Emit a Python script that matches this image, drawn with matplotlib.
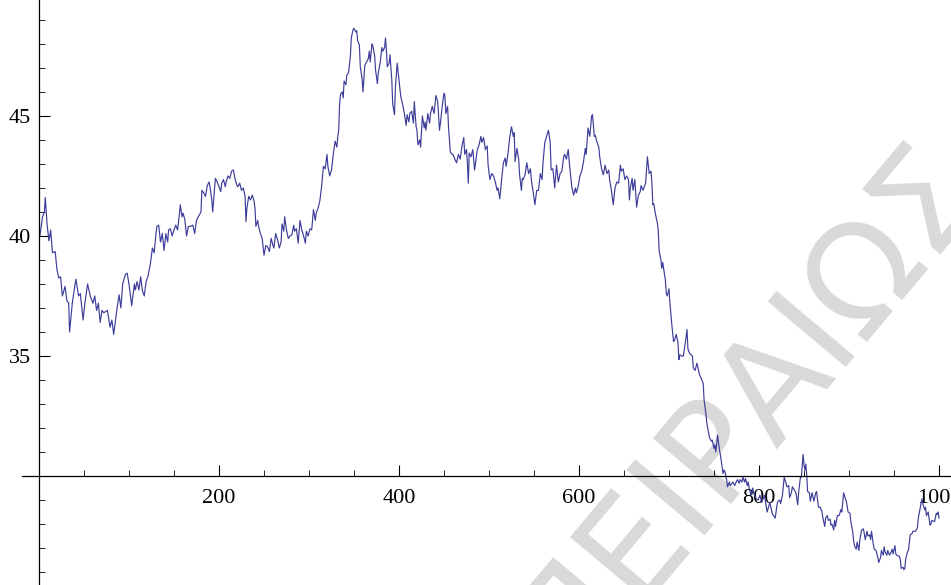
import numpy as np
import matplotlib
matplotlib.use('Agg')
import matplotlib.pyplot as plt
from matplotlib.ticker import MultipleLocator

# series (step, value)
steps = [1, 4, 6, 7, 9, 11, 13, 15, 18, 20, 22, 24, 26, 29, 31, 33, 34, 37, 41, 44,
         46, 49, 51, 54, 57, 60, 62, 64, 66, 68, 70, 72, 76, 79, 81, 83,
         87, 89, 91, 93, 96, 98, 100, 103, 106, 107, 109, 111, 113, 115, 117, 119,
         121, 123, 124, 126, 128, 130, 131, 133, 135, 137, 139, 141, 143, 144, 146,
         148, 150, 152, 154, 156, 157, 159, 160, 162, 164, 166,
         168, 171, 173, 175, 177, 180, 181, 183, 185, 187, 189, 190, 192, 193, 195,
         196, 198, 200, 202, 203, 205, 207, 208, 210, 212, 214, 216, 218, 220, 221,
         223, 225, 227, 229, 230, 231, 233, 235, 237, 239, 240, 241, 243, 244, 246,
         248, 250,
         252, 254, 256, 258, 260, 261, 263, 265, 267, 269, 270, 272, 273, 275, 277,
         279, 281, 283, 284, 286, 288, 290, 292, 294, 296, 297, 299, 301, 303, 305,
         307, 308, 310, 312, 314, 316, 318, 320, 321, 323, 325, 327, 329, 331, 332,
         333, 334, 335, 337, 338, 339, 341, 342, 344, 346, 347, 349, 350, 352, 353,
         354, 356, 357, 359, 360, 362, 364, 366, 367, 368, 370, 371, 373, 374, 376,
         377, 379, 381, 382, 384, 385, 386, 387, 389, 390, 392, 393, 395, 396, 398,
         400, 402, 404, 406, 408, 409, 411, 412, 414, 416, 417,
         419, 420, 421, 423, 424, 426, 428, 429, 430, 432, 434, 435, 437, 439, 441,
         443, 445, 446, 448, 450, 451, 452, 454, 455, 457, 459, 460, 462, 464, 466,
         468, 470, 472, 473, 475, 476, 477, 478, 480, 482, 484, 486, 487, 489, 491,
         492, 494, 496, 498, 499, 501,
         503, 505, 507, 509, 510, 512, 514, 516, 518, 519, 521, 523, 525, 527, 528,
         529, 531, 533, 534, 536, 537, 538, 540, 542, 544, 546, 547, 549, 551, 553,
         555, 557, 559, 560, 562, 564, 566, 568, 569, 571, 573, 575, 577, 579, 581, 583,
         584, 586, 588, 590, 592, 594, 596, 597, 599, 601, 603, 605, 607, 608, 610,
         612, 614, 615, 617, 618, 620, 622, 623, 625, 627, 629, 631, 633, 634, 636,
         638, 640, 642, 644, 646, 647, 649, 651, 653, 655, 656, 657, 659, 660, 662,
         664, 666, 668,
         669, 671, 673, 674, 676, 678, 680, 681, 682, 683, 685, 687, 688, 689, 691,
         692, 693, 696, 697, 698, 700, 701, 703, 705, 706, 708, 710, 711, 712, 714,
         716, 719, 720, 721, 723, 726, 727, 729, 731,
         734, 736, 738, 739, 741, 742, 744, 745, 747, 748, 750, 751, 752, 754, 756,
         757, 758, 760, 761, 762, 764, 765, 767, 768, 770, 771, 773, 774, 776, 778,
         779, 781, 782, 784, 785, 787, 788, 789, 791, 793, 794, 797, 799, 801, 803,
         806, 809, 812, 815,
         818, 820, 821, 823, 824, 826, 828, 830, 831, 833, 834, 836, 837, 838, 841,
         843, 844, 846, 847, 849, 850, 851, 852, 853, 854, 856, 857, 859, 861, 863,
         864, 866, 868, 870, 871, 873, 874, 876, 877, 879, 880, 881, 883, 884, 885,
         887, 889, 891, 892, 894, 896, 897, 899, 901, 902, 904, 905,
         906, 908, 909, 911, 912, 914, 916, 917, 918, 920, 921, 923, 924, 925, 927,
         928, 930, 932, 933, 935, 936, 938, 939, 940, 942, 943, 945, 947, 948, 949,
         951, 952, 953, 956, 957, 958, 960, 961, 962, 963, 965, 966, 968, 970, 971,
         974, 976, 977, 979, 981, 982, 984, 985, 986, 988, 990, 991, 992, 995, 997,
         998, 999, 1000]

values = [40.0, 40.8, 41.0, 41.6, 40.5, 39.8, 40.25, 39.3, 39.35, 38.6, 38.25, 38.3, 37.5, 37.9, 37.3, 37.2, 36.0, 37.2, 38.2, 37.5,
          37.6, 36.5, 37.2, 38.0, 37.5, 37.2, 37.5, 36.9, 37.2, 36.4, 36.9, 36.8, 36.9, 36.2, 36.5, 35.9,
          37.05, 37.55, 37.0, 38.0, 38.4, 38.45, 38.0, 37.1, 38.0, 37.75, 38.1, 37.75, 38.3, 37.7, 37.5, 38.1,
          38.3, 38.7, 38.9, 39.5, 39.3, 40.1, 40.4, 40.45, 39.75, 40.1, 39.4, 40.1, 39.75, 40.25, 40.3,
          40.0, 40.25, 40.45, 40.25, 40.9, 41.3, 40.8, 40.95, 40.7, 40.0, 40.4,
          40.4, 40.45, 40.1, 40.65, 40.8, 41.0, 41.9, 41.8, 41.65, 42.1, 42.25, 42.05, 41.5, 41.0, 41.9,
          42.4, 42.25, 42.05, 41.85, 42.2, 42.35, 42.05, 42.25, 42.5, 42.4, 42.7, 42.75, 42.35, 42.1, 42.05,
          42.2, 41.9, 42.0, 41.65, 40.6, 41.15, 41.65, 41.5, 41.7, 41.45, 41.15, 40.4, 40.65, 40.4, 40.1,
          39.9, 39.2,
          39.6, 39.55, 39.35, 39.9, 39.6, 39.5, 40.1, 39.85, 39.5, 39.75, 40.5, 40.2, 40.8, 40.25, 39.9,
          40.0, 40.05, 40.45, 40.2, 40.3, 39.7, 40.65, 40.25, 40.0, 39.7, 40.2, 40.0, 40.3, 40.25, 41.1,
          40.65, 40.95, 41.15, 41.45, 42.05, 42.9, 42.8, 43.4, 42.9, 42.5, 42.75, 43.4, 43.95, 43.7, 44.15,
          44.4, 45.5, 45.9, 46.0, 45.75, 46.45, 46.3, 46.7, 46.8, 47.5, 48.25, 48.6, 48.65, 48.5, 48.55,
          48.15, 47.95, 47.05, 46.55, 46.0, 47.1, 47.25, 47.4, 47.7, 47.25, 48.0, 47.9, 47.5, 46.9, 46.35,
          46.8, 47.2, 47.85, 47.7, 47.85, 48.25, 47.75, 47.05, 47.2, 47.55, 46.5, 45.5, 45.05, 46.2, 47.2,
          46.5, 45.8, 45.5, 45.1, 44.6, 45.05, 44.75, 45.1, 45.2, 44.7, 45.6,
          44.55, 44.4, 43.8, 44.0, 43.7, 45.0, 44.5, 44.75, 44.4, 45.1, 44.7, 45.1, 45.4, 45.1, 45.85,
          45.6, 44.4, 44.7, 45.4, 45.95, 45.85, 45.1, 45.4, 44.55, 43.5, 43.4, 43.4, 43.2, 43.05, 43.4,
          43.2, 43.75, 44.1, 43.4, 43.6, 43.05, 42.2, 43.45, 43.3, 43.6, 42.75, 43.3, 43.6, 43.8, 44.15,
          43.9, 44.1, 43.6, 43.75, 42.95, 42.35,
          42.6, 42.5, 42.25, 41.9, 42.0, 41.55, 42.35, 43.05, 43.25, 42.9, 43.4, 44.1, 44.55, 44.15, 44.3,
          43.1, 43.65, 43.2, 42.55, 41.9, 42.4, 42.35, 42.55, 43.05, 42.6, 42.8, 42.35, 41.85, 41.3, 41.9,
          41.9, 42.6, 42.35, 43.05, 43.9, 44.15, 44.4, 43.9, 42.75, 42.8, 42.0, 42.95, 42.25, 42.6, 42.7, 43.3,
          43.4, 43.2, 43.6, 42.75, 42.05, 41.7, 42.0, 41.8, 42.05, 42.5, 42.7, 43.1, 43.65, 43.4, 44.5,
          44.15, 45.0, 45.05, 44.15, 44.2, 43.9, 43.7, 43.3, 42.8, 42.55, 42.95, 42.6, 42.75, 42.35, 41.9,
          41.3, 42.0, 42.25, 42.2, 42.95, 42.7, 42.8, 42.35, 42.5, 42.35, 41.5, 42.0, 42.4, 41.9, 42.35,
          41.2, 41.7, 41.85,
          42.1, 41.9, 42.1, 42.2, 43.3, 42.6, 42.7, 42.2, 41.3, 41.35, 40.9, 40.55, 40.25, 39.4, 39.0,
          38.65, 38.9, 38.15, 37.6, 37.5, 37.8, 37.2, 36.35, 35.6, 35.65, 35.9, 35.55, 34.85, 35.05, 35.0,
          35.0, 35.8, 36.1, 35.3, 35.1, 35.0, 34.5, 34.4, 34.7,
          34.2, 34.05, 33.85, 33.15, 32.6, 32.2, 31.8, 31.6, 31.45, 31.5, 31.15, 31.3, 31.0, 31.7, 31.1,
          30.9, 30.65, 30.1, 30.25, 30.2, 29.85, 29.55, 29.75, 29.6, 29.7, 29.75, 29.6, 29.7, 29.85, 29.7,
          29.85, 29.75, 29.95, 29.75, 29.9, 29.6, 29.75, 29.5, 29.2, 29.5, 29.3, 29.05, 29.0, 29.2, 28.9,
          29.2, 28.5, 28.9, 28.4,
          28.25, 28.8, 28.95, 29.0, 28.85, 29.2, 29.95, 29.7, 29.55, 29.6, 29.1, 29.3, 29.55, 29.5, 29.3,
          28.8, 29.3, 29.95, 29.95, 30.9, 30.45, 30.25, 30.5, 30.05, 29.35, 29.3, 28.95, 29.3, 28.95, 29.3,
          29.35, 28.7, 28.7, 28.5, 28.25, 27.9, 28.25, 28.35, 28.15, 28.2, 27.95, 28.0, 27.75, 28.15, 27.9,
          28.35, 28.35, 28.6, 28.5, 29.3, 29.05, 28.95, 28.5, 28.45, 28.1, 27.7, 27.35,
          27.1, 26.95, 27.25, 26.9, 27.35, 27.75, 27.8, 27.6, 27.35, 27.7, 27.5, 27.55, 27.35, 27.7, 27.15,
          26.95, 26.9, 26.6, 26.4, 26.6, 26.9, 26.7, 27.05, 26.85, 26.7, 26.9, 26.7, 26.85, 26.95, 26.75,
          27.1, 26.75, 26.7, 26.65, 26.5, 26.15, 26.2, 26.1, 26.15, 26.55, 26.85, 26.9, 27.55, 27.6, 27.7,
          27.7, 27.85, 28.25, 28.65, 29.05, 28.85, 28.6, 28.7, 28.35, 28.5, 27.95, 28.0, 28.15, 28.1, 28.45,
          28.4, 28.5, 28.25]

xticks_major = [200, 400, 600, 800, 1000]
yticks_major = [35, 40, 45]

plt.rcParams['font.family'] = ['Liberation Serif', 'DejaVu Serif']

fig = plt.figure(figsize=(9.51, 5.85), dpi=100)
ax = fig.add_axes([0, 0, 1, 1])
ax.patch.set_visible(False)

# watermark behind the curve
ax.text(0.785, 0.30, 'ΠΕΙΡΑΙΩΣ', transform=fig.transFigure, rotation=50,
        rotation_mode='anchor', ha='center', va='center', fontsize=100,
        family='DejaVu Sans', color='#d9d9d9', zorder=0)

ax.plot(steps, values, color='#3d3d9a', lw=0.85, zorder=3)

ax.set_xlim(-43.3, 1013.3)
ax.set_ylim(25.46, 49.83)

for s in ['top', 'right']:
    ax.spines[s].set_visible(False)
ax.spines['left'].set_position(('data', 0))
ax.spines['bottom'].set_position(('data', 30))
ax.spines['bottom'].set_bounds(-19, 1013.3)
for s in ['left', 'bottom']:
    ax.spines[s].set_linewidth(0.9)
    ax.spines[s].set_zorder(4)

ax.set_xticks(xticks_major)
ax.set_yticks(yticks_major)
ax.xaxis.set_minor_locator(MultipleLocator(50))
ax.yaxis.set_minor_locator(MultipleLocator(1))
ax.tick_params(which='major', direction='in', length=8, width=0.8, labelsize=16)
ax.tick_params(which='minor', direction='in', length=4.5, width=0.6)
ax.tick_params(axis='x', which='major', pad=9)
ax.tick_params(axis='y', which='major', pad=6)

fig.savefig('out.png', dpi=100)
